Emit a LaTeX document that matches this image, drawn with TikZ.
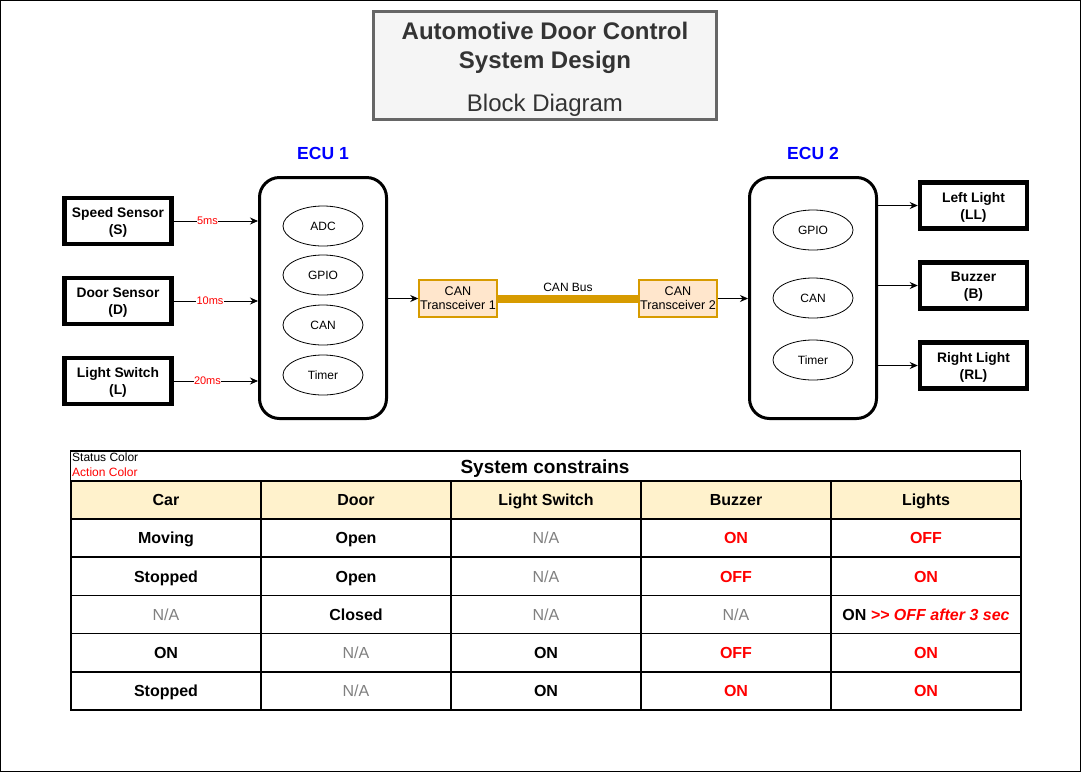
\documentclass[tikz,border=0pt]{standalone}
\usepackage{fontspec}
\setmainfont{Liberation Sans}
\usetikzlibrary{arrows.meta,shapes.geometric,positioning,calc}
\definecolor{canfill}{HTML}{FFE6CC}
\definecolor{canline}{HTML}{D79B00}
\definecolor{hdrfill}{HTML}{FFF2CC}
\definecolor{titlefill}{HTML}{F5F5F5}
\definecolor{titleline}{HTML}{666666}
\definecolor{titletext}{HTML}{333333}
\definecolor{ecublue}{RGB}{0,0,255}
\definecolor{actred}{RGB}{255,0,0}
\definecolor{nagray}{HTML}{808080}
\newcommand{\fsz}[2]{\fontsize{#1}{#2}\selectfont}
\newcommand{\sta}[1]{\textbf{#1}}
\newcommand{\act}[1]{\textcolor{actred}{\textbf{#1}}}
\newcommand{\na}{\textcolor{nagray}{N/A}}

\begin{document}
\begin{tikzpicture}[
  x=1pt, y=-1pt,
  every node/.style={font=\fsz{12}{14}},
  sensor/.style={draw, line width=4.5pt, minimum width=107pt, minimum height=46pt,
    align=center, inner sep=0pt, text depth=0pt, font=\fsz{13.8}{17}\bfseries},
  ecu/.style={draw, line width=3pt, rounded corners=20pt, minimum width=127pt, minimum height=241pt},
  periph/.style={ellipse, draw, line width=0.8pt, minimum width=80pt, minimum height=40pt, inner sep=0pt},
  xcvr/.style={draw=canline, fill=canfill, line width=1.5pt, minimum width=78pt, minimum height=37pt,
    align=center, inner sep=0pt, font=\fsz{12.6}{14}},
  arr/.style={-{Stealth[length=8pt,width=7pt]}, line width=0.8pt},
  rate/.style={font=\fsz{11}{13}, text=actred, fill=white, inner sep=0.5pt},
  cell/.style={draw, line width=1.5pt, minimum width=190pt, minimum height=38.2pt, inner sep=0pt,
    text height=13pt, text depth=1.5pt, font=\fsz{16}{19}},
]
\useasboundingbox (0,0) rectangle (1081,772);
\draw[line width=1pt, fill=white] (0.5,0.5) rectangle (1080.5,771.5);

%% Title block
\node[draw=titleline, fill=titlefill, line width=3pt, minimum width=343pt, minimum height=108pt]
  (titlebox) at (545,65.5) {};
\node[align=center, text=titletext, font=\fsz{24}{29}\bfseries] (titletxt) at (545,47.5)
  {Automotive Door Control\\System Design};
\node[text=titletext, font=\fsz{24}{28}] (subtxt) at (545,105) {Block Diagram};

%% ECU 1 with its peripherals
\node[font=\fsz{17.5}{20}\bfseries, text=ecublue] (ecuAlbl) at (323,153) {ECU 1};
\node[ecu] (ecuA) at (323,298) {};
\foreach \nm/\lab/\yy in {adcA/ADC/226, gpioA/GPIO/275, canA/CAN/325, tmrA/Timer/375}{
  \node[periph] (\nm) at (323,\yy) {\lab};
}

%% ECU 2 with its peripherals
\node[font=\fsz{17.5}{20}\bfseries, text=ecublue] (ecuBlbl) at (813,153) {ECU 2};
\node[ecu] (ecuB) at (813,298) {};
\foreach \nm/\lab/\yy in {gpioB/GPIO/230, canB/CAN/298, tmrB/Timer/360}{
  \node[periph] (\nm) at (813,\yy) {\lab};
}

%% Sensors (inputs)
\node[sensor] (spd)  at (118,221) {Speed Sensor\\(S)};
\node[sensor] (door) at (118,301) {Door Sensor\\(D)};
\node[sensor] (lsw)  at (118,381) {Light Switch\\(L)};

\draw[arr] (spd.east)  -- (spd.east -| ecuA.west)  node[rate, pos=0.4] {5ms};
\draw[arr] (door.east) -- (door.east -| ecuA.west) node[rate, pos=0.43] {10ms};
\draw[arr] (lsw.east)  -- (lsw.east -| ecuA.west)  node[rate, pos=0.4] {20ms};

%% Actuators (outputs)
\node[sensor] (ll)  at (973.5,205.5) {Left Light\\(LL)};
\node[sensor] (buz) at (973.5,285.5) {Buzzer\\(B)};
\node[sensor] (rl)  at (973.5,365.5) {Right Light\\(RL)};

\foreach \out in {ll,buz,rl}{
  \draw[arr] (ecuB.east |- \out.west) -- (\out.west);
}

%% CAN link
\node[xcvr] (xcvrA) at (458,298.5) {CAN\\Transceiver 1};
\node[xcvr] (xcvrB) at (678,298.5) {CAN\\Transceiver 2};
\draw[arr] (ecuA.east |- xcvrA.west) -- (xcvrA.west);
\draw[arr] (xcvrB.east) -- (xcvrB.east -| ecuB.west);
\draw[line width=8pt, canline] (xcvrA.east) -- (xcvrB.west)
  node[midway, yshift=11pt, text=black] (busLbl) {CAN Bus};

%% Constraint table
\node[draw, line width=1.5pt, minimum width=950pt, minimum height=30pt] (tbltitle) at (545.5,466) {};
\node[font=\fsz{19}{22}\bfseries] (tblhead) at (545,468.5) {System constrains};
\node[anchor=west, inner sep=0pt, font=\fsz{12}{14}] (stKey) at (72,457.5) {Status Color};
\node[anchor=west, inner sep=0pt, font=\fsz{12}{14}, text=actred] (actKey) at (72,472.5) {Action Color};

\foreach \i/\lab in {0/Car, 1/Door, 2/Light Switch, 3/Buzzer, 4/Lights}{
  \node[cell, fill=hdrfill, font=\fsz{16}{19}\bfseries] (hd\i) at (166+\i*190,500) {\lab};
}

%% rows: y / car / door / light switch / buzzer / lights
\foreach \r/\yy/\va/\vb/\vc/\vd/\ve in {
  1/538.1/\sta{Moving}/\sta{Open}/\na/\act{ON}/\act{OFF},
  2/576.3/\sta{Stopped}/\sta{Open}/\na/\act{OFF}/\act{ON},
  3/614.5/\na/\sta{Closed}/\na/\na/{\sta{ON} \act{\itshape {>}{>} OFF after 3 sec}},
  4/652.7/\sta{ON}/\na/\sta{ON}/\act{OFF}/\act{ON},
  5/690.9/\sta{Stopped}/\na/\sta{ON}/\act{ON}/\act{ON}%
}{
  \node[cell] (r\r c1) at (166,\yy) {\va};
  \node[cell] (r\r c2) at (356,\yy) {\vb};
  \node[cell] (r\r c3) at (546,\yy) {\vc};
  \node[cell] (r\r c4) at (736,\yy) {\vd};
  \node[cell] (r\r c5) at (926,\yy) {\ve};
}

\end{tikzpicture}
\end{document}
